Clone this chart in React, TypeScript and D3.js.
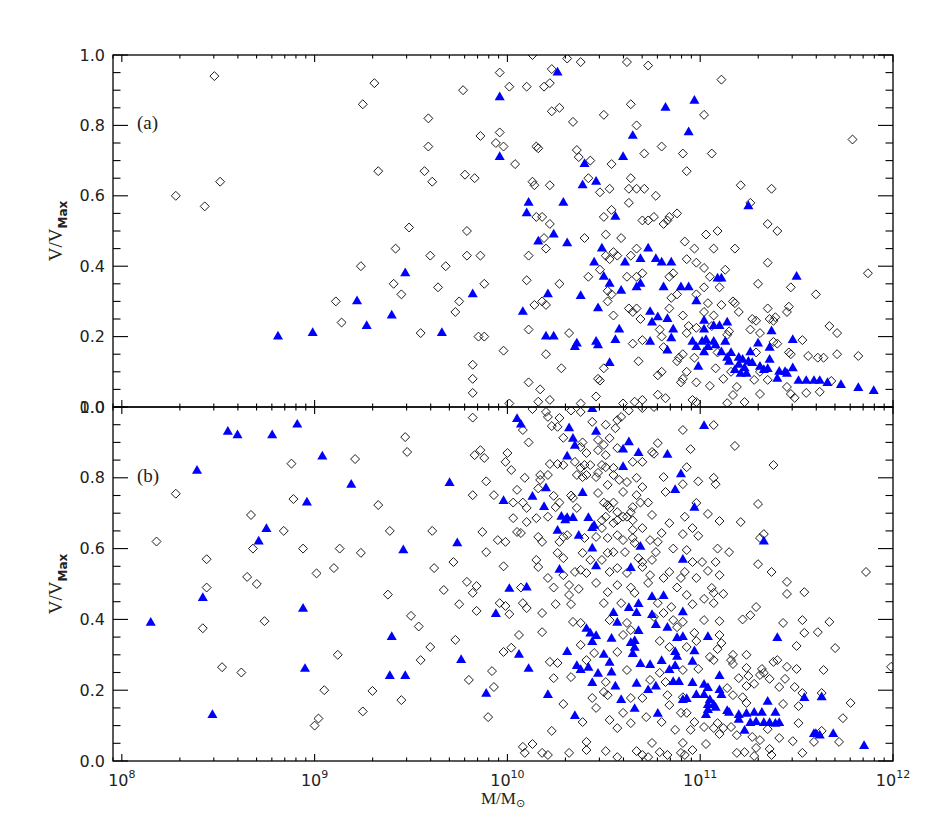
import React, { useRef, useEffect } from "react";
import * as d3 from "d3";

// values are [log10(M/Msun), V/Vmax]
const diamondsA: [number, number][] = [
  [8.48, 0.94], [8.28, 0.6], [8.43, 0.57], [8.51, 0.64],
  [9.25, 0.86], [9.31, 0.92], [9.33, 0.67], [9.24, 0.4], [9.11, 0.3], [9.14, 0.24],
  [9.42, 0.45], [9.49, 0.51], [9.45, 0.32], [9.41, 0.35],
  [9.59, 0.82], [9.59, 0.74], [9.57, 0.67], [9.61, 0.64], [9.6, 0.43], [9.68, 0.4], [9.64, 0.34],
  [9.73, 0.27], [9.75, 0.3], [9.79, 0.5], [9.79, 0.43], [9.77, 0.9], [9.78, 0.66], [9.55, 0.21],
  [9.82, 0.12], [9.82, 0.08], [9.82, 0.04], [9.85, 0.2], [9.88, 0.2], [9.86, 0.43], [9.88, 0.35],
  [10.13, 1.0], [10.31, 0.99], [10.38, 0.98], [10.62, 0.98], [10.73, 0.97], [9.96, 0.95], [10.23, 0.96],
  [10.01, 0.91], [10.1, 0.91], [10.19, 0.91], [10.22, 0.92], [10.27, 0.85], [10.23, 0.84], [10.34, 0.81],
  [10.5, 0.83], [10.64, 0.86], [10.67, 0.8], [9.86, 0.77], [9.96, 0.78], [9.94, 0.75], [9.98, 0.74],
  [10.15, 0.74], [10.16, 0.735], [10.36, 0.73], [10.37, 0.71], [10.43, 0.7], [10.54, 0.69], [10.71, 0.72],
  [10.8, 0.74], [10.91, 0.72], [10.04, 0.69], [9.83, 0.65], [10.13, 0.64], [10.14, 0.63], [10.22, 0.63],
  [10.42, 0.65], [10.53, 0.62], [10.48, 0.61], [10.64, 0.65], [10.63, 0.62], [10.67, 0.62], [10.71, 0.62],
  [10.77, 0.6], [10.63, 0.58], [10.54, 0.56], [10.5, 0.54], [10.15, 0.54], [10.18, 0.54], [10.22, 0.52],
  [10.7, 0.53], [10.73, 0.53], [10.76, 0.54], [10.84, 0.54], [10.88, 0.55], [10.81, 0.52], [10.83, 0.53],
  [11.11, 0.93], [11.02, 0.83], [11.06, 0.72], [11.21, 0.63], [11.37, 0.62], [11.26, 0.58], [11.35, 0.52],
  [11.79, 0.76], [10.93, 0.67],
  [10.11, 0.43], [10.1, 0.36], [10.27, 0.35], [10.19, 0.48], [10.2, 0.45], [10.4, 0.48], [10.51, 0.49],
  [10.59, 0.48], [10.51, 0.43], [10.53, 0.42], [10.57, 0.43], [10.55, 0.44], [10.64, 0.43], [10.67, 0.45],
  [10.42, 0.37], [10.48, 0.39], [10.62, 0.37], [10.67, 0.37], [10.7, 0.38], [10.84, 0.37], [10.86, 0.38],
  [10.14, 0.29], [10.18, 0.3], [10.2, 0.29], [10.52, 0.33], [10.54, 0.32], [10.52, 0.3], [10.55, 0.26],
  [10.63, 0.28], [10.67, 0.28], [10.69, 0.25], [10.65, 0.27], [10.84, 0.28], [10.85, 0.31], [10.88, 0.32],
  [10.91, 0.26], [10.11, 0.22], [10.32, 0.21], [9.98, 0.16], [10.2, 0.15], [10.65, 0.18], [10.7, 0.19],
  [10.79, 0.22], [10.8, 0.2], [10.81, 0.17], [10.89, 0.14], [10.88, 0.13], [10.28, 0.11], [10.5, 0.11],
  [10.47, 0.08], [10.48, 0.075], [10.68, 0.13], [10.8, 0.1], [10.78, 0.09], [10.91, 0.08], [10.9, 0.07],
  [10.11, 0.07], [10.17, 0.05], [10.01, 0.01], [10.16, 0.015], [10.22, 0.02], [10.38, 0.01], [10.46, 0.03],
  [10.6, 0.01], [10.66, 0.015], [10.7, 0.02], [10.78, 0.035], [10.82, 0.025],
  [11.03, 0.49], [11.09, 0.5], [11.4, 0.5], [10.92, 0.47], [10.97, 0.45], [11.07, 0.45], [11.18, 0.45],
  [10.93, 0.42], [10.98, 0.41], [11.02, 0.395], [11.13, 0.39], [11.35, 0.41], [11.05, 0.37], [11.02, 0.34],
  [11.1, 0.34], [11.3, 0.35], [11.47, 0.34], [11.6, 0.32], [11.87, 0.38], [10.98, 0.32], [11.04, 0.295],
  [11.11, 0.29], [11.17, 0.3], [11.18, 0.295], [11.02, 0.27], [11.07, 0.26], [11.2, 0.27], [11.35, 0.28],
  [11.45, 0.27], [11.46, 0.285], [11.36, 0.25], [11.38, 0.245], [11.39, 0.255], [10.94, 0.23], [10.98, 0.225],
  [11.06, 0.23], [11.15, 0.215], [11.27, 0.25], [11.29, 0.245], [11.26, 0.22], [11.31, 0.21], [10.93, 0.21],
  [11.14, 0.205], [11.67, 0.23], [11.71, 0.21], [11.53, 0.19], [11.38, 0.185], [11.4, 0.18], [11.46, 0.155],
  [11.47, 0.15], [10.91, 0.15], [10.97, 0.14], [11.09, 0.155], [11.29, 0.155], [11.56, 0.145], [11.61, 0.14],
  [11.64, 0.14], [11.71, 0.15], [11.82, 0.145], [10.93, 0.1], [11.08, 0.11], [11.16, 0.1], [11.31, 0.1],
  [10.98, 0.07], [11.05, 0.06], [11.12, 0.08], [11.19, 0.057], [11.28, 0.077], [11.35, 0.077], [11.45, 0.057],
  [11.47, 0.037], [11.49, 0.026], [11.55, 0.04], [11.62, 0.043], [11.68, 0.074], [11.31, 0.037], [11.17, 0.034],
  [11.23, 0.014], [10.96, 0.02], [10.98, 0.014], [11.14, 0.011],
];

const trianglesA: [number, number][] = [
  [8.81, 0.2], [8.99, 0.21], [9.22, 0.3], [9.27, 0.23], [9.4, 0.26], [9.47, 0.38], [9.66, 0.21],
  [10.26, 0.95], [9.96, 0.88], [10.82, 0.85], [10.65, 0.77], [9.96, 0.71], [10.6, 0.71], [10.4, 0.69],
  [10.39, 0.63], [10.46, 0.64], [10.11, 0.58], [10.29, 0.58], [10.1, 0.55], [10.56, 0.54],
  [10.97, 0.87], [10.94, 0.78], [11.25, 0.57],
  [9.82, 0.32], [10.16, 0.47], [10.24, 0.49], [10.31, 0.465], [10.49, 0.45], [10.45, 0.41], [10.5, 0.37],
  [10.61, 0.41], [10.69, 0.42], [10.73, 0.45], [10.77, 0.42], [10.8, 0.41], [10.85, 0.41], [10.53, 0.35],
  [10.59, 0.33], [10.67, 0.34], [10.69, 0.35], [10.81, 0.34], [10.9, 0.34], [10.21, 0.32], [10.38, 0.315],
  [10.47, 0.28], [10.08, 0.27], [10.74, 0.27], [10.78, 0.255], [10.75, 0.24], [10.83, 0.25], [10.86, 0.22],
  [10.58, 0.22], [10.2, 0.2], [10.24, 0.2], [10.36, 0.18], [10.35, 0.17], [10.46, 0.185], [10.47, 0.175],
  [10.56, 0.19], [10.74, 0.185], [10.85, 0.195], [10.83, 0.16], [10.53, 0.125],
  [10.94, 0.34], [10.98, 0.3], [11.09, 0.365], [11.11, 0.365], [11.5, 0.37], [11.02, 0.245], [11.02, 0.22],
  [11.07, 0.23], [11.1, 0.23], [11.14, 0.24], [11.37, 0.215], [10.96, 0.185], [11.01, 0.185], [11.03, 0.19],
  [11.07, 0.185], [11.13, 0.185], [11.3, 0.18], [11.48, 0.19], [10.98, 0.17], [11.02, 0.155], [11.04, 0.17],
  [11.08, 0.175], [11.11, 0.155], [11.16, 0.153], [11.26, 0.155], [11.36, 0.168], [11.14, 0.14], [11.2, 0.14],
  [11.25, 0.128], [11.36, 0.134], [11.15, 0.128], [11.22, 0.134], [11.18, 0.105], [11.2, 0.12], [11.23, 0.11],
  [11.27, 0.125], [11.31, 0.114], [11.35, 0.108], [11.41, 0.1], [11.44, 0.099], [11.48, 0.11], [11.45, 0.094],
  [11.21, 0.094], [11.24, 0.094], [11.33, 0.105], [10.99, 0.114], [11.4, 0.08], [11.51, 0.074], [11.55, 0.074],
  [11.59, 0.074], [11.62, 0.074], [11.66, 0.068], [11.73, 0.062], [11.82, 0.054], [11.9, 0.045],
];

const diamondsB: [number, number][] = [
  [8.18, 0.62], [8.28, 0.755], [8.44, 0.57], [8.44, 0.49], [8.42, 0.375], [8.52, 0.265], [8.62, 0.25],
  [8.67, 0.695], [8.68, 0.6], [8.65, 0.52], [8.7, 0.5], [8.74, 0.395], [8.84, 0.65], [8.88, 0.84],
  [8.89, 0.74], [8.94, 0.6], [9.01, 0.53], [9.05, 0.2], [9.02, 0.12], [9.0, 0.1], [9.1, 0.545],
  [9.13, 0.6], [9.12, 0.3], [9.21, 0.853], [9.24, 0.588], [9.25, 0.14], [9.3, 0.198], [9.33, 0.723],
  [9.38, 0.47], [9.39, 0.65], [9.45, 0.172], [9.47, 0.915], [9.48, 0.873], [9.5, 0.41], [9.54, 0.38],
  [9.55, 0.285], [9.6, 0.322], [9.61, 0.65], [9.62, 0.545], [9.67, 0.483], [9.72, 0.562], [9.73, 0.342],
  [9.75, 0.443], [9.79, 0.506], [9.8, 0.229],
  [9.82, 0.97], [10.13, 0.994], [10.2, 0.986], [10.21, 0.972], [10.27, 0.969], [10.23, 0.946], [10.26, 0.944],
  [10.08, 0.935], [10.11, 0.9], [10.33, 0.99], [10.38, 0.986], [10.44, 0.958], [10.51, 0.95], [10.57, 0.963],
  [10.59, 0.972], [10.56, 0.94], [10.63, 0.99], [10.7, 0.997], [10.76, 1.0], [10.91, 0.935], [10.29, 0.913],
  [10.39, 0.9], [10.47, 0.907], [10.5, 0.893], [10.53, 0.912], [10.47, 0.878], [10.41, 0.87], [10.38, 0.887],
  [10.51, 0.864], [10.57, 0.884], [10.78, 0.898], [10.75, 0.873], [10.76, 0.868], [10.65, 0.845], [10.7, 0.845],
  [9.86, 0.878], [9.83, 0.864], [9.88, 0.856], [10.0, 0.87], [9.99, 0.845], [10.02, 0.822], [10.22, 0.839],
  [10.26, 0.839], [10.29, 0.836], [10.35, 0.845], [10.38, 0.828], [10.4, 0.836], [10.49, 0.836], [10.51, 0.83],
  [10.47, 0.814], [10.43, 0.836], [10.55, 0.808], [10.55, 0.828], [10.36, 0.808], [10.39, 0.802], [10.41, 0.808],
  [10.46, 0.802], [10.52, 0.78], [10.58, 0.794], [10.62, 0.788], [10.67, 0.8], [10.7, 0.774], [10.81, 0.802],
  [10.82, 0.76], [9.89, 0.79], [10.09, 0.8], [10.17, 0.808], [10.17, 0.794], [10.21, 0.808], [10.16, 0.77],
  [10.05, 0.766], [9.82, 0.751], [9.93, 0.751], [10.03, 0.73], [10.08, 0.73], [10.1, 0.715], [10.24, 0.749],
  [10.27, 0.73], [10.33, 0.75], [10.34, 0.743], [10.36, 0.715], [10.25, 0.717], [10.47, 0.757], [10.5, 0.73],
  [10.52, 0.723], [10.53, 0.715], [10.55, 0.73], [10.57, 0.703], [10.6, 0.76], [10.64, 0.703], [10.65, 0.717],
  [10.67, 0.751], [10.69, 0.73], [10.73, 0.73], [10.75, 0.695], [10.03, 0.686], [10.1, 0.675], [10.15, 0.686],
  [10.21, 0.69], [10.51, 0.69], [10.55, 0.672], [10.57, 0.68], [10.6, 0.69], [10.62, 0.69], [10.65, 0.68],
  [10.49, 0.68], [10.49, 0.658], [10.65, 0.653], [10.7, 0.658], [10.84, 0.672], [9.87, 0.647], [9.95, 0.624],
  [9.99, 0.619], [10.05, 0.647], [10.07, 0.644], [10.16, 0.633], [10.18, 0.619], [10.27, 0.619], [10.29, 0.633],
  [10.31, 0.638], [10.4, 0.63], [10.46, 0.633], [10.52, 0.63], [10.57, 0.638], [10.6, 0.624], [10.65, 0.63],
  [10.66, 0.616], [10.74, 0.624], [10.78, 0.619], [10.8, 0.644], [10.86, 0.6], [9.89, 0.59], [10.15, 0.568],
  [10.16, 0.548], [10.26, 0.588], [10.29, 0.573], [10.39, 0.588], [10.43, 0.568], [10.49, 0.568], [10.52, 0.588],
  [10.55, 0.59], [10.61, 0.59], [10.68, 0.573], [10.7, 0.562], [10.75, 0.568], [10.77, 0.59], [9.98, 0.55],
  [10.35, 0.534], [10.38, 0.54], [10.41, 0.531], [10.53, 0.534], [10.57, 0.545], [10.62, 0.531], [10.7, 0.548],
  [10.74, 0.525], [10.81, 0.517], [10.84, 0.534], [10.9, 0.517], [10.29, 0.525], [10.21, 0.517],
  [11.07, 0.949], [10.95, 0.881], [11.18, 0.89], [10.93, 0.83], [11.38, 0.836], [10.99, 0.79], [11.07, 0.8],
  [11.08, 0.782], [10.91, 0.782], [10.98, 0.729], [11.3, 0.726], [10.92, 0.69], [11.04, 0.698], [11.1, 0.678],
  [11.21, 0.675], [10.96, 0.658], [10.99, 0.636], [10.91, 0.641], [11.33, 0.641], [11.31, 0.63], [10.93, 0.596],
  [11.09, 0.6], [11.15, 0.59], [10.96, 0.562], [11.01, 0.562], [11.08, 0.562], [11.3, 0.556], [11.04, 0.537],
  [10.92, 0.534], [10.98, 0.517], [11.1, 0.525], [11.37, 0.534], [11.86, 0.534], [11.45, 0.506],
  [9.84, 0.494], [9.82, 0.475], [10.07, 0.49], [10.08, 0.446], [10.1, 0.432], [9.96, 0.446], [9.99, 0.438],
  [9.84, 0.424], [10.01, 0.415], [10.18, 0.418], [10.25, 0.443], [10.24, 0.49], [10.32, 0.497], [10.37, 0.486],
  [10.32, 0.469], [10.33, 0.443], [10.46, 0.503], [10.52, 0.477], [10.57, 0.497], [10.64, 0.49], [10.66, 0.475],
  [10.5, 0.446], [10.59, 0.446], [10.73, 0.503], [10.78, 0.446], [10.81, 0.418], [10.88, 0.49], [10.85, 0.435],
  [10.34, 0.393], [10.38, 0.39], [10.53, 0.398], [10.62, 0.39], [10.64, 0.37], [10.76, 0.407], [10.86, 0.398],
  [10.88, 0.378], [10.06, 0.356], [10.18, 0.364], [10.6, 0.356], [10.79, 0.339], [10.84, 0.322], [10.38, 0.328],
  [10.57, 0.308], [9.98, 0.308], [10.02, 0.32], [10.45, 0.305], [10.41, 0.285], [10.22, 0.28], [10.26, 0.277],
  [10.62, 0.257], [9.92, 0.254], [10.33, 0.237], [10.24, 0.234], [10.79, 0.249], [10.82, 0.223], [10.74, 0.229],
  [9.93, 0.209], [10.51, 0.223], [10.5, 0.195], [10.52, 0.186], [10.44, 0.178], [10.64, 0.178], [10.7, 0.178],
  [10.83, 0.186], [10.84, 0.158], [10.91, 0.18], [10.29, 0.161], [10.46, 0.15], [10.6, 0.136], [10.72, 0.124],
  [10.8, 0.11], [10.9, 0.136], [9.9, 0.124], [10.39, 0.11], [10.53, 0.116], [10.64, 0.107], [10.57, 0.093],
  [10.23, 0.085], [10.87, 0.088], [10.41, 0.054], [10.75, 0.051], [10.08, 0.04], [10.13, 0.048], [10.09, 0.023],
  [10.18, 0.023], [10.21, 0.017], [10.32, 0.023], [10.41, 0.031], [10.51, 0.028], [10.57, 0.011], [10.67, 0.028],
  [10.7, 0.017], [10.73, 0.011], [10.79, 0.025], [10.83, 0.017], [10.9, 0.023],
  [11.06, 0.489], [11.07, 0.475], [11.12, 0.472], [10.93, 0.469], [10.96, 0.443], [11.02, 0.458], [11.07, 0.446],
  [11.45, 0.472], [11.54, 0.477], [11.29, 0.435], [11.26, 0.412], [11.22, 0.4], [11.43, 0.39], [11.53, 0.398],
  [11.67, 0.393], [11.61, 0.364], [11.54, 0.362], [11.02, 0.398], [11.1, 0.395], [10.97, 0.362], [10.98, 0.339],
  [11.1, 0.356], [11.11, 0.333], [10.91, 0.393], [11.5, 0.325], [11.7, 0.319], [10.93, 0.322], [11.09, 0.316],
  [11.17, 0.3], [11.24, 0.3], [11.16, 0.285], [11.17, 0.274], [11.05, 0.294], [11.07, 0.285], [11.38, 0.28],
  [11.4, 0.285], [11.45, 0.266], [11.5, 0.26], [11.64, 0.257], [11.32, 0.26], [11.33, 0.249], [11.24, 0.263],
  [10.91, 0.257], [10.99, 0.26], [11.2, 0.234], [11.25, 0.24], [11.31, 0.243], [11.36, 0.232], [11.44, 0.232],
  [11.24, 0.212], [11.28, 0.218], [11.14, 0.206], [11.17, 0.186], [11.41, 0.209], [11.49, 0.209], [11.53, 0.192],
  [11.63, 0.192], [11.78, 0.164], [11.22, 0.18], [11.24, 0.164], [11.43, 0.161], [11.51, 0.155], [11.74, 0.121],
  [10.93, 0.136], [10.97, 0.11], [11.51, 0.107], [11.63, 0.085], [11.72, 0.054], [11.59, 0.054], [10.95, 0.088],
  [11.02, 0.096], [11.07, 0.093], [11.09, 0.107], [11.12, 0.093], [11.1, 0.076], [11.16, 0.096], [11.19, 0.073],
  [11.27, 0.068], [11.31, 0.059], [11.35, 0.09], [11.41, 0.065], [11.48, 0.056], [11.36, 0.034], [11.29, 0.037],
  [11.23, 0.025], [11.19, 0.023], [11.28, 0.014], [11.37, 0.017], [11.53, 0.023], [11.03, 0.048], [10.92, 0.017],
  [10.91, 0.051], [10.96, 0.031], [11.99, 0.266],
];

const trianglesB: [number, number][] = [
  [8.15, 0.39], [8.39, 0.82], [8.42, 0.46], [8.47, 0.13], [8.55, 0.93], [8.6, 0.92], [8.71, 0.62],
  [8.75, 0.655], [8.78, 0.92], [8.91, 0.95], [8.94, 0.43], [8.95, 0.26], [8.96, 0.73], [9.04, 0.86],
  [9.19, 0.78], [9.39, 0.24], [9.4, 0.35], [9.46, 0.595], [9.47, 0.24], [9.7, 0.785], [9.74, 0.615],
  [9.76, 0.285],
  [10.05, 0.966], [10.07, 0.95], [10.32, 0.94], [10.46, 0.93], [10.34, 0.91], [10.35, 0.89], [10.31, 0.86],
  [10.63, 0.9], [10.6, 0.88], [10.68, 0.87], [10.83, 0.865], [10.6, 0.83], [10.9, 0.81], [10.87, 0.765],
  [10.2, 0.77], [10.39, 0.757], [9.98, 0.734], [10.13, 0.746], [10.19, 0.717], [10.28, 0.69], [10.3, 0.68],
  [10.31, 0.686], [10.34, 0.686], [10.42, 0.686], [10.44, 0.658], [10.45, 0.664], [10.26, 0.65], [10.37, 0.636],
  [10.44, 0.6], [10.69, 0.605], [10.91, 0.568], [10.27, 0.54], [10.46, 0.55], [10.64, 0.545], [10.44, 0.994],
  [11.02, 0.946], [10.97, 0.715], [11.33, 0.62],
  [10.01, 0.486], [10.1, 0.49], [9.94, 0.415], [10.06, 0.3], [10.11, 0.26], [9.89, 0.19], [10.21, 0.186],
  [10.35, 0.127], [10.31, 0.308], [10.41, 0.373], [10.43, 0.36], [10.46, 0.353], [10.44, 0.336], [10.36, 0.268],
  [10.38, 0.257], [10.42, 0.263], [10.47, 0.246], [10.44, 0.22], [10.5, 0.3], [10.53, 0.277], [10.54, 0.25],
  [10.54, 0.345], [10.56, 0.21], [10.59, 0.172], [10.66, 0.147], [10.78, 0.133], [10.55, 0.418], [10.57, 0.39],
  [10.63, 0.432], [10.68, 0.443], [10.67, 0.418], [10.75, 0.463], [10.81, 0.466], [10.75, 0.412], [10.77, 0.384],
  [10.83, 0.376], [10.68, 0.367], [10.64, 0.333], [10.66, 0.339], [10.65, 0.302], [10.66, 0.32], [10.69, 0.274],
  [10.74, 0.271], [10.8, 0.282], [10.67, 0.218], [10.73, 0.2], [10.77, 0.21], [10.88, 0.347], [10.91, 0.35],
  [10.87, 0.308], [10.88, 0.294], [10.87, 0.268], [10.84, 0.257], [10.86, 0.223], [10.89, 0.223], [10.91, 0.42],
  [10.91, 0.172],
  [11.04, 0.35], [10.97, 0.31], [10.96, 0.28], [11.4, 0.347], [11.1, 0.24], [10.96, 0.22], [11.02, 0.215],
  [11.04, 0.206], [10.98, 0.186], [10.93, 0.175], [11.02, 0.186], [11.1, 0.2], [11.11, 0.186], [11.05, 0.172],
  [11.07, 0.158], [11.04, 0.158], [11.08, 0.15], [11.04, 0.144], [11.14, 0.141], [11.03, 0.13], [11.15, 0.136],
  [11.2, 0.13], [11.24, 0.133], [11.28, 0.136], [11.2, 0.116], [11.26, 0.107], [11.29, 0.11], [11.32, 0.136],
  [11.33, 0.107], [11.36, 0.107], [11.39, 0.105], [11.41, 0.107], [11.39, 0.136], [11.35, 0.167], [11.23, 0.085],
  [11.54, 0.178], [11.63, 0.18], [11.59, 0.076], [11.6, 0.076], [11.62, 0.072], [11.69, 0.076], [11.85, 0.042],
];

const yTickLabels = ["0.0", "0.2", "0.4", "0.6", "0.8", "1.0"];
const xTickExponents = ["8", "9", "10", "11", "12"];
const panelLabels = ["(a)", "(b)"];

const W = 926;
const H = 817;
const LEFT = 113;
const RIGHT = 893;

function App() {
  const svgRef = useRef<SVGSVGElement>(null);

  useEffect(() => {
    const svg = d3.select(svgRef.current);
    svg.selectAll("*").remove();

    const x = d3.scaleLog().domain([9e7, 1e12]).range([LEFT, RIGHT]);
    const defs = svg.append("defs");

    const panels = [
      { top: 55, bottom: 407, diamonds: diamondsA, triangles: trianglesA },
      { top: 407, bottom: 761, diamonds: diamondsB, triangles: trianglesB },
    ];

    const diamond = d3.symbol(d3.symbolSquare, 40)();
    const triangle = d3.symbol(d3.symbolTriangle, 44)();

    panels.forEach((p, i) => {
      const y = d3.scaleLinear().domain([0, 1]).range([p.bottom, p.top]);
      const clipId = `clip-${i}`;
      defs
        .append("clipPath")
        .attr("id", clipId)
        .append("rect")
        .attr("x", LEFT)
        .attr("y", p.top)
        .attr("width", RIGHT - LEFT)
        .attr("height", p.bottom - p.top);

      const g = svg.append("g").attr("clip-path", `url(#${clipId})`);

      // open diamonds
      g.selectAll(".dia")
        .data(p.diamonds)
        .join("path")
        .attr("class", "dia")
        .attr("d", diamond)
        .attr("transform", (d) => `translate(${x(10 ** d[0])},${y(d[1])}) rotate(45)`)
        .attr("fill", "none")
        .attr("stroke", "#111")
        .attr("stroke-width", 0.9);

      // filled triangles
      g.selectAll(".tri")
        .data(p.triangles)
        .join("path")
        .attr("class", "tri")
        .attr("d", triangle)
        .attr("transform", (d) => `translate(${x(10 ** d[0])},${y(d[1])})`)
        .attr("fill", "#0000ff");

      // frame
      svg
        .append("rect")
        .attr("x", LEFT)
        .attr("y", p.top)
        .attr("width", RIGHT - LEFT)
        .attr("height", p.bottom - p.top)
        .attr("fill", "none")
        .attr("stroke", "#000")
        .attr("stroke-width", 1.3);

      const axes = svg.append("g").attr("stroke", "#000").attr("stroke-width", 1.1);

      // y ticks, left and right
      y.ticks(20).forEach((v) => {
        const major = Math.abs(v * 5 - Math.round(v * 5)) < 1e-6;
        const len = major ? 15 : 7.5;
        axes.append("line").attr("x1", LEFT).attr("x2", LEFT + len).attr("y1", y(v)).attr("y2", y(v));
        axes.append("line").attr("x1", RIGHT).attr("x2", RIGHT - len).attr("y1", y(v)).attr("y2", y(v));
      });

      // x ticks, top and bottom
      x.ticks().forEach((t) => {
        const lg = Math.log10(t);
        const major = Math.abs(lg - Math.round(lg)) < 1e-6;
        const len = major ? 7 : 3.5;
        axes.append("line").attr("x1", x(t)).attr("x2", x(t)).attr("y1", p.top).attr("y2", p.top + len);
        axes.append("line").attr("x1", x(t)).attr("x2", x(t)).attr("y1", p.bottom).attr("y2", p.bottom - len);
      });

      // y tick labels
      svg
        .append("g")
        .selectAll("text")
        .data(yTickLabels)
        .join("text")
        .attr("x", 105)
        .attr("y", (d) => y(+d))
        .attr("text-anchor", "end")
        .attr("dominant-baseline", "central")
        .attr("font-family", "DejaVu Sans, sans-serif")
        .attr("font-size", 16)
        .attr("fill", "#222")
        .text((d) => d);

      // panel label
      svg
        .append("text")
        .attr("x", 137)
        .attr("y", y(0.8) + 4)
        .attr("font-family", "Liberation Serif, serif")
        .attr("font-size", 19)
        .attr("fill", "#222")
        .text(panelLabels[i]);

      // y title
      const cy = (p.top + p.bottom) / 2;
      const yt = svg
        .append("text")
        .attr("transform", `translate(62,${cy}) rotate(-90)`)
        .attr("text-anchor", "middle")
        .attr("fill", "#222");
      yt.append("tspan").attr("font-family", "Liberation Serif, serif").attr("font-size", 19).text("V/V");
      yt.append("tspan")
        .attr("font-family", "DejaVu Sans, sans-serif")
        .attr("font-weight", "bold")
        .attr("font-size", 12)
        .attr("dy", 5)
        .text("Max");
    });

    // x tick labels under panel (b)
    const xl = svg
      .append("g")
      .selectAll("text")
      .data(xTickExponents)
      .join("text")
      .attr("x", (d) => x(10 ** +d))
      .attr("y", 786)
      .attr("text-anchor", "middle")
      .attr("font-family", "DejaVu Sans, sans-serif")
      .attr("fill", "#222");
    xl.append("tspan").attr("font-size", 16).text("10");
    xl.append("tspan").attr("font-size", 11).attr("dy", -8).text((d) => d);

    // x title
    const xt = svg
      .append("text")
      .attr("x", 503)
      .attr("y", 804)
      .attr("text-anchor", "middle")
      .attr("fill", "#222");
    xt.append("tspan").attr("font-family", "Liberation Serif, serif").attr("font-size", 17).text("M/M");
    xt.append("tspan").attr("font-family", "DejaVu Sans, sans-serif").attr("font-size", 11).attr("dy", 3).text("\u2299");
  }, []);

  return (
    <svg
      ref={svgRef}
      width={W}
      height={H}
      style={{ position: "absolute", left: 0, top: 0, background: "#fff" }}
    />
  );
}

export default App;
